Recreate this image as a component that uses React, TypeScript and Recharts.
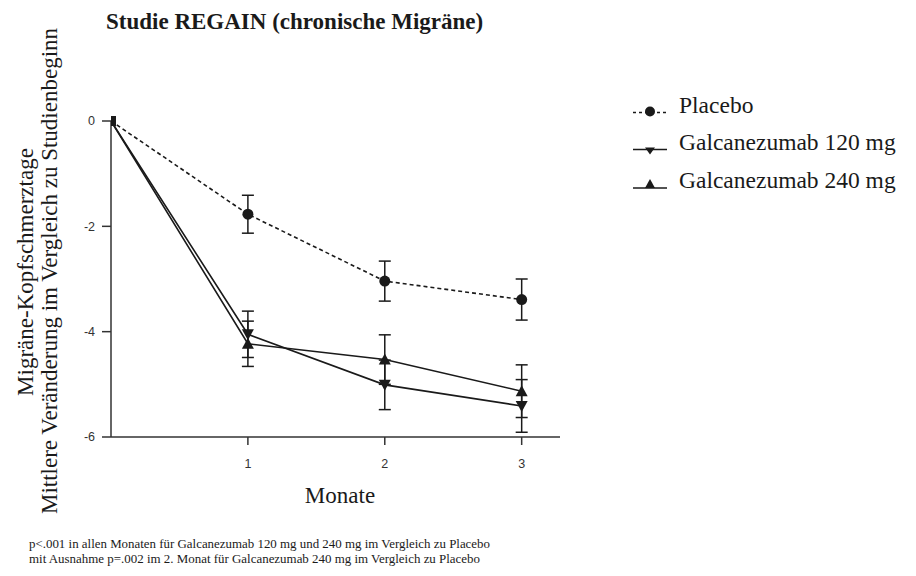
import { LineChart, Line, XAxis, YAxis, ErrorBar } from "recharts";

// Monate seit Studienbeginn
const months = [0, 1, 2, 3];

// Mittlere Veränderung der Migräne-Kopfschmerztage
const placebo = [0, -1.77, -3.04, -3.39];
const placeboErr = [0, 0.36, 0.38, 0.39];
const galca120 = [0, -4.05, -5.01, -5.41];
const galca120Err = [0, 0.44, 0.47, 0.5];
const galca240 = [0, -4.23, -4.53, -5.13];
const galca240Err = [0, 0.43, 0.47, 0.5];

const xTicks = [1, 2, 3];
const yTicks = [0, -2, -4, -6];

const SERIES = [
    { key: "placebo", name: "Placebo", marker: "circle", dash: "4 3" },
    { key: "g120", name: "Galcanezumab 120 mg", marker: "down", dash: undefined },
    { key: "g240", name: "Galcanezumab 240 mg", marker: "up", dash: undefined },
];

const data = months.map((m, i) => ({
    month: m,
    placebo: placebo[i],
    placeboErr: placeboErr[i],
    g120: galca120[i],
    g120Err: galca120Err[i],
    g240: galca240[i],
    g240Err: galca240Err[i],
}));

const INK = "#1a1a1a";
const SERIF = "'Liberation Serif', 'Times New Roman', serif";
const SANS = "'Liberation Sans', Arial, sans-serif";

function Marker({ kind, cx, cy }: { kind: string; cx: number; cy: number }) {
    if (kind === "circle") return <circle cx={cx} cy={cy} r={5.5} fill={INK} />;
    if (kind === "down")
        return <path d={`M${cx - 6},${cy - 5} L${cx + 6},${cy - 5} L${cx},${cy + 6} Z`} fill={INK} />;
    if (kind === "up")
        return <path d={`M${cx - 6},${cy + 5} L${cx + 6},${cy + 5} L${cx},${cy - 6} Z`} fill={INK} />;
    return <rect x={cx - 5} y={cy - 5} width={10} height={10} fill={INK} />;
}

const makeDot = (kind: string) => (props: any) => {
    const { cx, cy, index } = props;
    if (cx == null || cy == null) return <g key={`${kind}-${index}`} />;
    return (
        <g key={`${kind}-${index}`}>
            <Marker kind={index === 0 ? "square" : kind} cx={cx} cy={cy} />
        </g>
    );
};

// legend symbols: small markers sitting on the baseline line
function LegendMarker({ kind, cx, cy }: { kind: string; cx: number; cy: number }) {
    if (kind === "circle") return <circle cx={cx} cy={cy - 1} r={5} fill={INK} />;
    if (kind === "down")
        return <path d={`M${cx - 5},${cy - 2} L${cx + 5},${cy - 2} L${cx},${cy + 5} Z`} fill={INK} />;
    return <path d={`M${cx - 5},${cy} L${cx + 5},${cy} L${cx},${cy - 9} Z`} fill={INK} />;
}

const legendBaselines = [112.5, 149.5, 188];

export default function App() {
    return (
        <div style={{ position: "absolute", left: 0, top: 0, width: 916, height: 576, background: "#fff" }}>
            <LineChart width={916} height={576} data={data}
                margin={{ top: 121, right: 356, bottom: 99, left: 51 }}>
                <XAxis dataKey="month" type="number" domain={[0, 3.28]} ticks={xTicks}
                    height={40} stroke="#333" strokeWidth={1.5} tickSize={8} tickMargin={14}
                    tick={{ fill: "#333", fontSize: 12.5, fontFamily: SANS }} allowDataOverflow />
                <YAxis type="number" domain={[-6, 0]} ticks={yTicks} width={60}
                    stroke="#333" strokeWidth={1.5} tickSize={9} tickMargin={7}
                    tick={{ fill: "#333", fontSize: 12.5, fontFamily: SANS }} />
                {SERIES.map((s) => (
                    <Line key={s.key} dataKey={s.key} name={s.name} type="linear"
                        stroke={INK} strokeWidth={1.6} strokeDasharray={s.dash}
                        dot={makeDot(s.marker)} activeDot={false} isAnimationActive={false}>
                        <ErrorBar dataKey={`${s.key}Err`} direction="y" width={6}
                            stroke={INK} strokeWidth={1.5} isAnimationActive={false} />
                    </Line>
                ))}
            </LineChart>

            <svg width={916} height={576} style={{ position: "absolute", left: 0, top: 0, pointerEvents: "none" }}>
                <text x={106} y={28.5} fontFamily={SERIF} fontWeight="bold" fontSize={23} fill={INK}>
                    Studie REGAIN (chronische Migräne)
                </text>
                <g fontFamily={SERIF} fontSize={23} fill={INK} textAnchor="middle">
                    <text transform="translate(33,272) rotate(-90)">Migräne-Kopfschmerztage</text>
                    <text transform="translate(57,271) rotate(-90)">
                        Mittlere Veränderung im Vergleich zu Studienbeginn
                    </text>
                    <text x={340} y={503}>Monate</text>
                </g>
                <g fontFamily={SERIF} fontSize={23.5} fill={INK}>
                    {SERIES.map((s, i) => {
                        const y = legendBaselines[i];
                        return (
                            <g key={s.key}>
                                <line x1={633} y1={y} x2={667} y2={y} stroke={INK} strokeWidth={1.5}
                                    strokeDasharray={s.dash ? "3 3" : undefined} />
                                <LegendMarker kind={s.marker} cx={650} cy={y} />
                                <text x={679} y={y}>{s.name}</text>
                            </g>
                        );
                    })}
                </g>
                <g fontFamily={SERIF} fontSize={12.5} fill={INK}>
                    <text x={29} y={548} textLength={461} lengthAdjust="spacingAndGlyphs">
                        p&lt;.001 in allen Monaten für Galcanezumab 120 mg und 240 mg im Vergleich zu Placebo
                    </text>
                    <text x={29} y={563} textLength={451} lengthAdjust="spacingAndGlyphs">
                        mit Ausnahme p=.002 im 2. Monat für Galcanezumab 240 mg im Vergleich zu Placebo
                    </text>
                </g>
            </svg>
        </div>
    );
}
